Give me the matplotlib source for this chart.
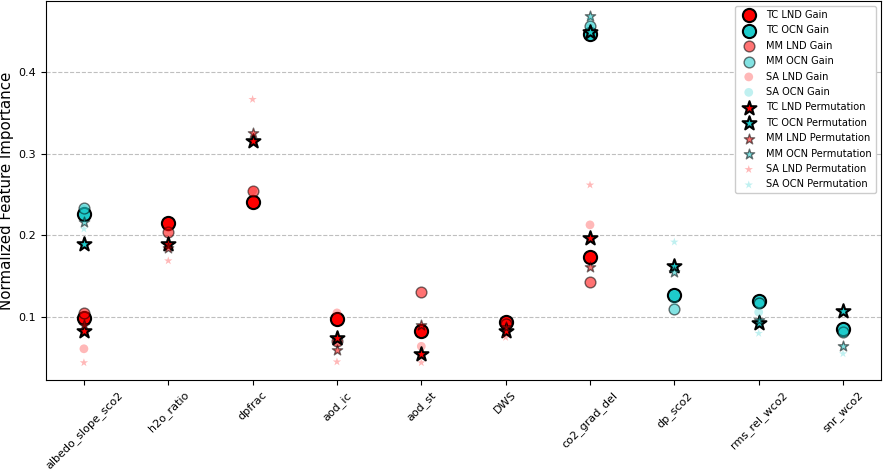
import numpy as np
import matplotlib
matplotlib.use("Agg")
import matplotlib.pyplot as plt

features = ["albedo_slope_sco2", "h2o_ratio", "dpfrac", "aod_ic", "aod_st", "DWS",
            "co2_grad_del", "dp_sco2", "rms_rel_wco2", "snr_wco2"]
nan = np.nan

tc_lnd_gain = [0.099, 0.215, 0.241, 0.097, 0.083, 0.094, 0.174, nan, nan, nan]
tc_ocn_gain = [0.226, nan, nan, nan, nan, nan, 0.447, 0.127, 0.120, 0.085]
mm_lnd_gain = [0.105, 0.204, 0.255, 0.070, 0.131, 0.092, 0.143, nan, nan, nan]
mm_ocn_gain = [0.234, nan, nan, nan, nan, nan, 0.457, 0.110, 0.117, 0.081]
sa_lnd_gain = [0.061, 0.210, 0.255, 0.105, 0.064, 0.092, 0.213, nan, nan, nan]
sa_ocn_gain = [0.232, nan, nan, nan, nan, nan, 0.455, 0.120, 0.106, 0.085]

tc_lnd_perm = [0.083, 0.190, 0.316, 0.074, 0.055, 0.083, 0.197, nan, nan, nan]
tc_ocn_perm = [0.190, nan, nan, nan, nan, nan, 0.450, 0.163, 0.093, 0.107]
mm_lnd_perm = [0.090, 0.185, 0.326, 0.060, 0.090, 0.088, 0.161, nan, nan, nan]
mm_ocn_perm = [0.217, nan, nan, nan, nan, nan, 0.469, 0.155, 0.096, 0.064]
sa_lnd_perm = [0.044, 0.169, 0.367, 0.045, 0.044, 0.075, 0.262, nan, nan, nan]
sa_ocn_perm = [0.208, nan, nan, nan, nan, nan, 0.465, 0.192, 0.080, 0.055]

red = "#ff0000"
teal = "#1ecbcb"

fig = plt.figure(figsize=(8.84, 4.75), dpi=100)
ax = fig.add_axes([0.052, 0.2, 0.9446, 0.798])
x = np.arange(len(features))

ax.scatter(x, tc_lnd_gain, s=90, c=red, edgecolors="k", linewidths=1.5, label="TC LND Gain", zorder=3)
ax.scatter(x, tc_ocn_gain, s=90, c=teal, edgecolors="k", linewidths=1.5, label="TC OCN Gain", zorder=3)
ax.scatter(x, mm_lnd_gain, s=60, c=red, edgecolors="k", linewidths=1, alpha=0.55, label="MM LND Gain", zorder=3)
ax.scatter(x, mm_ocn_gain, s=60, c=teal, edgecolors="k", linewidths=1, alpha=0.55, label="MM OCN Gain", zorder=3)
ax.scatter(x, sa_lnd_gain, s=40, c=red, edgecolors="none", alpha=0.28, label="SA LND Gain", zorder=3)
ax.scatter(x, sa_ocn_gain, s=40, c=teal, edgecolors="none", alpha=0.28, label="SA OCN Gain", zorder=3)

ax.scatter(x, tc_lnd_perm, s=110, marker="*", c=red, edgecolors="k", linewidths=1.5, label="TC LND Permutation", zorder=4)
ax.scatter(x, tc_ocn_perm, s=110, marker="*", c=teal, edgecolors="k", linewidths=1.5, label="TC OCN Permutation", zorder=4)
ax.scatter(x, mm_lnd_perm, s=60, marker="*", c=red, edgecolors="k", linewidths=1, alpha=0.55, label="MM LND Permutation", zorder=4)
ax.scatter(x, mm_ocn_perm, s=60, marker="*", c=teal, edgecolors="k", linewidths=1, alpha=0.55, label="MM OCN Permutation", zorder=4)
ax.scatter(x, sa_lnd_perm, s=40, marker="*", c=red, edgecolors="none", alpha=0.28, label="SA LND Permutation", zorder=4)
ax.scatter(x, sa_ocn_perm, s=40, marker="*", c=teal, edgecolors="none", alpha=0.28, label="SA OCN Permutation", zorder=4)

ax.set_xticks(x)
ax.set_xticklabels(features, rotation=45, fontsize=8)
ax.set_xlim(-0.45, 9.45)
ax.set_ylim(0.0227, 0.4877)
ax.set_yticks([0.1, 0.2, 0.3, 0.4])
ax.tick_params(axis="y", labelsize=8)
ax.set_ylabel("Normalized Feature Importance", fontsize=10.8, labelpad=3)
ax.yaxis.grid(True, linestyle="--", color="gray", alpha=0.5, linewidth=0.8)
ax.set_axisbelow(True)
ax.legend(loc="upper right", fontsize=7.1, framealpha=1, labelspacing=0.55)

fig.savefig("out.png", dpi=100)
